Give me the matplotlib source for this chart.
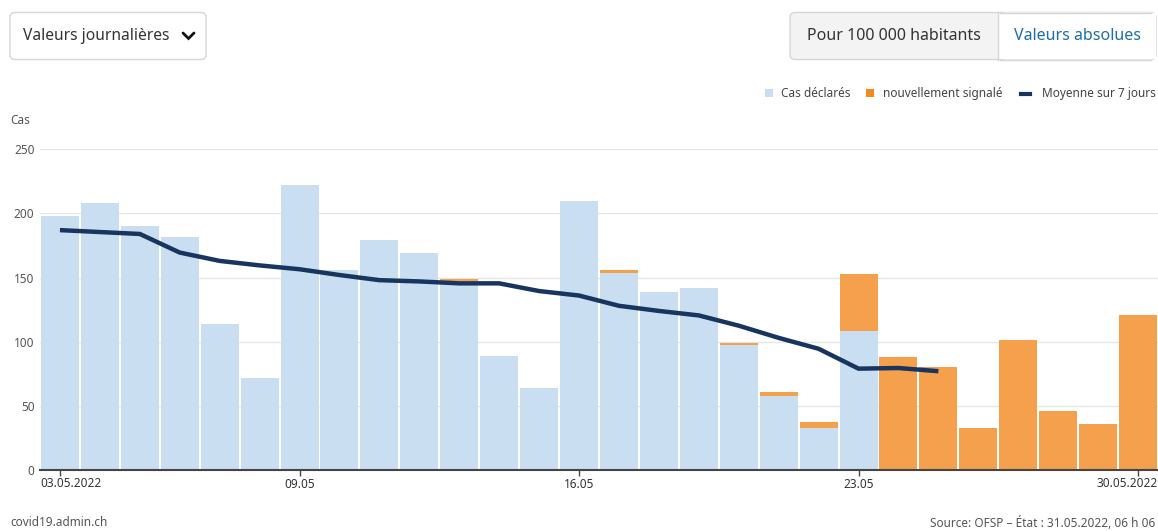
import numpy as np
import matplotlib
matplotlib.use("Agg")
import matplotlib.pyplot as plt
from matplotlib.patches import FancyBboxPatch, Rectangle

plt.rcParams['font.family'] = ['Noto Sans', 'DejaVu Sans']

# daily values 03.05.2022 .. 30.05.2022
days = ['03.05', '04.05', '05.05', '06.05', '07.05', '08.05', '09.05',
        '10.05', '11.05', '12.05', '13.05', '14.05', '15.05', '16.05',
        '17.05', '18.05', '19.05', '20.05', '21.05', '22.05', '23.05',
        '24.05', '25.05', '26.05', '27.05', '28.05', '29.05', '30.05']
cas_declares = [198, 208, 190, 182, 114, 72, 222,
                156, 179, 169, 147.5, 89, 64, 210,
                153.5, 139, 142, 97.5, 57.5, 32.5, 108.5,
                0, 0, 0, 0, 0, 0, 0]
nouveau = [0, 0, 0, 0, 0, 0, 0,
           0, 0, 0, 1.5, 0, 0, 0,
           2.5, 0, 0, 1.3, 3.3, 5.2, 44.5,
           88, 80, 33, 101, 46, 36, 121]
moyenne_7j = [187, 185.5, 184, 169.5, 163, 159.5, 156.5,
              152, 148, 147, 145.5, 145.5, 139.5, 136,
              128, 124, 120.5, 112.5, 103, 94.5, 79, 79.5, 77]
tick_idx = [0, 6, 13, 20, 27]
tick_lab = ['03.05.2022', '09.05', '16.05', '23.05', '30.05.2022']

c_blue = '#cadef2'
c_orange = '#f4a04c'
c_navy = '#17355e'
c_text = '#555555'

W, H = 1158, 531
fig = plt.figure(figsize=(W / 100, H / 100), dpi=100)

# chart area
ax = fig.add_axes([40 / W, (H - 470) / H, 1118 / W, (470 - 149.3) / H])
x = np.arange(len(days))
ax.bar(x, cas_declares, width=0.95, color=c_blue, zorder=2)
ax.bar(x, nouveau, width=0.95, bottom=cas_declares, color=c_orange, zorder=2)
ax.plot(x[:len(moyenne_7j)], moyenne_7j, color=c_navy, lw=3.2, zorder=3,
        solid_capstyle='butt', solid_joinstyle='round')

ax.set_xlim(-0.5, 27.5)
ax.set_ylim(0, 250)
ax.set_yticks([0, 50, 100, 150, 200, 250])
ax.grid(axis='y', color='#e6e6e6', lw=1, zorder=0)
ax.set_axisbelow(True)
# first and last date labels are aligned to the chart edges, like the original
ax.set_xticks(tick_idx)
ax.set_xticklabels([''] + tick_lab[1:-1] + [''])
ax.text(-0.5, -0.021, tick_lab[0], transform=ax.get_xaxis_transform(),
        ha='left', va='top', fontsize=8.5, color='#333333')
ax.text(27.5, -0.021, tick_lab[-1], transform=ax.get_xaxis_transform(),
        ha='right', va='top', fontsize=8.5, color='#333333')
for s in ['top', 'right', 'left']:
    ax.spines[s].set_visible(False)
ax.spines['bottom'].set_color('#444444')
ax.spines['bottom'].set_linewidth(1.5)
ax.spines['bottom'].set_zorder(4)
ax.tick_params(axis='y', length=0, pad=4, labelsize=8.5, labelcolor=c_text)
ax.tick_params(axis='x', length=4, width=1, color='#444444', pad=2,
               labelsize=8.5, labelcolor='#333333')

# overlay in pixel coordinates for UI elements
ov = fig.add_axes([0, 0, 1, 1], zorder=-1)
ov.set_xlim(0, W)
ov.set_ylim(H, 0)
ov.axis('off')

ov.add_patch(FancyBboxPatch((10, 12.5), 196, 47, boxstyle='round,pad=0,rounding_size=5',
                            fc='white', ec='#d6d6d6', lw=1))
ov.text(23, 36, 'Valeurs journalières', fontsize=11.2, color='#333333', va='center')
ov.plot([183, 188.5, 194], [33, 38.5, 33], color='#111111', lw=2,
        solid_capstyle='round', solid_joinstyle='miter')

ov.add_patch(FancyBboxPatch((790, 12.5), 366, 47, boxstyle='round,pad=0,rounding_size=5',
                            fc='#f3f3f3', ec='#d6d6d6', lw=1))
ov.add_patch(Rectangle((998, 13), 157.5, 46, fc='white', ec='none'))
ov.plot([998, 998], [13, 59.5], color='#d6d6d6', lw=1)
ov.add_patch(FancyBboxPatch((1000, 12.5), 156, 47, boxstyle='round,pad=0,rounding_size=5',
                            fc='white', ec='none'))
ov.plot([1000, 1151], [12.5, 12.5], color='#d6d6d6', lw=1)
ov.plot([1000, 1151], [59.5, 59.5], color='#d6d6d6', lw=1)
ov.text(894, 36, 'Pour 100 000 habitants', fontsize=11.5, color='#333333',
        va='center', ha='center')
ov.text(1077, 36, 'Valeurs absolues', fontsize=11.5, color='#1b6fa6',
        va='center', ha='center')

# legend
ov.add_patch(Rectangle((765, 89), 8, 8, fc=c_blue, ec='none'))
ov.text(781, 93.5, 'Cas déclarés', fontsize=8.5, color='#444444', va='center')
ov.add_patch(Rectangle((866, 89), 8, 8, fc='#f28a22', ec='none'))
ov.text(883, 93.5, 'nouvellement signalé', fontsize=8.5, color='#444444', va='center')
ov.plot([1021, 1030], [93.5, 93.5], color=c_navy, lw=3)
ov.text(1042, 93.5, 'Moyenne sur 7 jours', fontsize=8.5, color='#444444', va='center')

ov.text(10, 120, 'Cas', fontsize=8.5, color=c_text, va='center')
ov.text(10, 523, 'covid19.admin.ch', fontsize=8.5, color=c_text, va='center')
ov.text(1155, 523, 'Source: OFSP – État : 31.05.2022, 06 h 06', fontsize=8.5,
        color=c_text, va='center', ha='right')

fig.savefig('out.png', dpi=100)
